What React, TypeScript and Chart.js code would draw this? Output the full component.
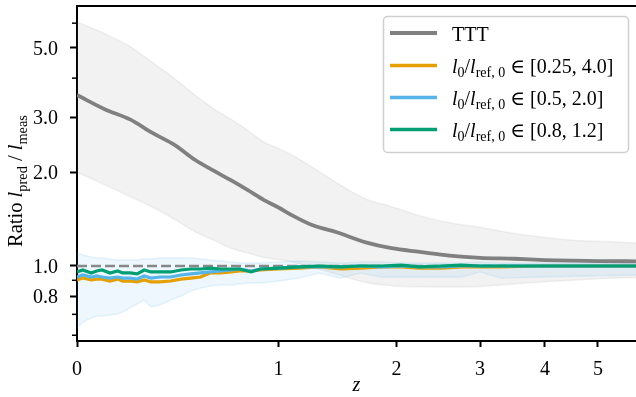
import React, { useEffect, useRef } from "react";
import { Chart, registerables } from "chart.js";

Chart.register(...registerables);

// ---------------- data ----------------
// redshift samples for the three l0/lref,0 variants
const zLines = [0, 0.02, 0.05, 0.07, 0.09, 0.12, 0.15, 0.17, 0.2, 0.23, 0.26, 0.29, 0.33, 0.38, 0.43, 0.48, 0.53, 0.58, 0.64, 0.7, 0.75, 0.82, 0.88, 1.0, 1.15, 1.3, 1.48, 1.65, 1.85, 2.05, 2.25, 2.5, 2.75, 3.0, 3.3, 3.9, 4.7, 5.9];
const orangeVals = [0.902, 0.915, 0.902, 0.908, 0.908, 0.895, 0.908, 0.895, 0.895, 0.889, 0.902, 0.889, 0.889, 0.895, 0.908, 0.915, 0.922, 0.95, 0.95, 0.957, 0.964, 0.964, 0.971, 0.978, 0.985, 0.993, 0.978, 0.985, 0.993, 0.993, 0.985, 0.985, 0.993, 0.993, 0.993, 1.0, 1.0, 1.0];
const blueVals = [0.922, 0.936, 0.922, 0.929, 0.922, 0.915, 0.922, 0.915, 0.915, 0.908, 0.929, 0.915, 0.922, 0.922, 0.936, 0.943, 0.95, 0.957, 0.964, 0.971, 0.978, 0.964, 0.978, 0.985, 0.993, 0.993, 0.993, 1.0, 0.993, 1.0, 0.993, 0.993, 1.0, 1.0, 1.0, 1.0, 1.0, 1.0];
const greenVals = [0.957, 0.971, 0.95, 0.964, 0.971, 0.95, 0.964, 0.95, 0.95, 0.943, 0.971, 0.957, 0.957, 0.957, 0.971, 0.978, 0.978, 0.985, 0.978, 0.978, 0.978, 0.957, 0.978, 0.985, 0.993, 1.0, 0.993, 1.0, 1.0, 1.007, 0.993, 1.0, 1.007, 1.0, 1.0, 1.0, 1.0, 1.0];
const blueBandHi = [1.1, 1.085, 1.069, 1.061, 1.061, 1.053, 1.045, 1.045, 1.045, 1.045, 1.053, 1.053, 1.061, 1.061, 1.061, 1.061, 1.053, 1.045, 1.038, 1.03, 1.022, 1.022, 1.022, 1.03, 1.038, 1.03, 1.022, 1.03, 1.03, 1.022, 1.022, 1.022, 1.022, 1.03, 1.022, 1.022, 1.022, 1.022];
const blueBandLo = [0.637, 0.661, 0.681, 0.692, 0.692, 0.697, 0.702, 0.712, 0.734, 0.756, 0.778, 0.739, 0.75, 0.778, 0.801, 0.832, 0.85, 0.863, 0.869, 0.869, 0.876, 0.882, 0.882, 0.895, 0.915, 0.95, 0.915, 0.95, 0.922, 0.922, 0.922, 0.922, 0.922, 0.957, 0.915, 0.922, 0.929, 0.936];

// TTT
const zTTT = [0, 0.1, 0.2, 0.3, 0.4, 0.5, 0.6, 0.7, 0.8, 0.9, 1.0, 1.1, 1.25, 1.45, 1.7, 1.95, 2.25, 2.6, 3.0, 3.5, 4.0, 4.5, 5.0, 5.9];
const tttVals = [3.53, 3.18, 2.95, 2.66, 2.44, 2.19, 2.02, 1.88, 1.75, 1.63, 1.54, 1.45, 1.35, 1.28, 1.19, 1.14, 1.11, 1.08, 1.062, 1.055, 1.045, 1.04, 1.037, 1.035];
const tttHi = [6.05, 5.55, 5.05, 4.47, 3.98, 3.53, 3.19, 2.95, 2.72, 2.5, 2.38, 2.26, 2.07, 1.84, 1.64, 1.55, 1.45, 1.375, 1.33, 1.27, 1.235, 1.21, 1.2, 1.185];
const tttLo = [2.0, 1.82, 1.67, 1.54, 1.41, 1.29, 1.21, 1.14, 1.1, 1.065, 1.05, 1.03, 0.99, 0.94, 0.885, 0.865, 0.858, 0.857, 0.86, 0.875, 0.89, 0.9, 0.91, 0.92];

// axes
const xTicks = [0, 1, 2, 3, 4, 5];
const yTicks = [0.8, 1.0, 2.0, 3.0, 5.0];
const yMinorTicks = [0.6, 0.7, 0.9, 4, 6];
const Z_MAX = 5.84;
const Y_MIN = 0.575;
const Y_MAX = 6.81;
const REF_LEVEL = 1.0;

// legend
const legendTTT = "TTT";
const legendRanges = ["[0.25, 4.0]", "[0.5, 2.0]", "[0.8, 1.2]"];
const xTitle = "z";

// ---------------- styling ----------------
const FONT = '"Liberation Serif", "DejaVu Serif", serif';
const GRAY = "#808080";
const ORANGE = "#E69F00";
const BLUE = "#56B4E9";
const GREEN = "#009E73";
const XMAX = Math.log1p(Z_MAX);

const toXY = (zs: number[], vs: number[]) => zs.map((z, i) => ({ x: Math.log1p(z), y: vs[i] }));

type Part = { t: string; it?: boolean; sub?: boolean };

function partFont(p: Part, size: number) {
  const s = p.sub ? size * 0.7 : size;
  return `${p.it ? "italic " : ""}${s}px ${FONT}`;
}
function measureParts(ctx: CanvasRenderingContext2D, parts: Part[], size: number) {
  let w = 0;
  for (const p of parts) {
    ctx.font = partFont(p, size);
    w += ctx.measureText(p.t).width;
  }
  return w;
}
function drawParts(ctx: CanvasRenderingContext2D, parts: Part[], x: number, y: number, size: number) {
  let cx = x;
  for (const p of parts) {
    ctx.font = partFont(p, size);
    ctx.fillText(p.t, cx, p.sub ? y + size * 0.22 : y);
    cx += ctx.measureText(p.t).width;
  }
}

const legendParts = (range: string): Part[] => [
  { t: "l", it: true },
  { t: "0", sub: true },
  { t: "/" },
  { t: "l", it: true },
  { t: "ref, 0", sub: true },
  { t: " \u2208 " },
  { t: range },
];

const yTitleParts: Part[] = [
  { t: "Ratio " },
  { t: "l", it: true },
  { t: "pred", sub: true },
  { t: " / " },
  { t: "l", it: true },
  { t: "meas", sub: true },
];

const decorPlugin = {
  id: "decor",
  afterDraw(chart: any) {
    const { ctx, chartArea: a, scales } = chart;
    const ys = scales.y;
    ctx.save();
    // top spine
    ctx.strokeStyle = "#000";
    ctx.lineWidth = 2;
    ctx.beginPath();
    ctx.moveTo(a.left - 1, a.top);
    ctx.lineTo(a.right, a.top);
    ctx.stroke();
    // minor ticks
    ctx.lineWidth = 1.5;
    for (const v of yMinorTicks) {
      const py = ys.getPixelForValue(v);
      ctx.beginPath();
      ctx.moveTo(a.left - 5, py);
      ctx.lineTo(a.left, py);
      ctx.stroke();
    }

    // legend
    const bx = 383, by = 16, bw = 245, bh = 136;
    ctx.beginPath();
    ctx.roundRect(bx + 0.5, by + 0.5, bw, bh, 4);
    ctx.fillStyle = "rgba(255,255,255,0.85)";
    ctx.fill();
    ctx.strokeStyle = "#d0d0d0";
    ctx.lineWidth = 1.5;
    ctx.stroke();

    const rows = [33, 65.5, 97.5, 129.5];
    const colors = [GRAY, ORANGE, BLUE, GREEN];
    const fs = 20;
    ctx.fillStyle = "#000";
    ctx.textBaseline = "alphabetic";
    ctx.textAlign = "left";
    rows.forEach((ry, i) => {
      ctx.strokeStyle = colors[i];
      ctx.lineWidth = i === 0 ? 4 : 3.5;
      ctx.beginPath();
      ctx.moveTo(390, ry);
      ctx.lineTo(437, ry);
      ctx.stroke();
      if (i === 0) {
        ctx.font = `${fs}px ${FONT}`;
        ctx.fillText(legendTTT, 452, ry + 7.5);
      } else {
        drawParts(ctx, legendParts(legendRanges[i - 1]), 452, ry + 7, fs);
      }
    });

    // x title
    ctx.font = `italic 20px ${FONT}`;
    ctx.textAlign = "center";
    ctx.fillText(xTitle, (a.left + a.right) / 2, 391);

    // y title
    ctx.textAlign = "left";
    const tsize = 20.5;
    const w = measureParts(ctx, yTitleParts, tsize);
    ctx.translate(22, 181);
    ctx.rotate(-Math.PI / 2);
    drawParts(ctx, yTitleParts, -w / 2, 0, tsize);
    ctx.restore();
  },
};

export default function App() {
  const ref = useRef<HTMLCanvasElement | null>(null);
  useEffect(() => {
    if (!ref.current) return;
    const bandLine = (c: string) => ({ borderColor: c, borderWidth: 1.5, pointRadius: 0 });
    const smooth = { cubicInterpolationMode: "monotone" };
    const chart = new Chart(ref.current, {
      type: "line",
      data: {
        datasets: [
          { label: "green", data: toXY(zLines, greenVals), borderColor: GREEN, borderWidth: 3.2, pointRadius: 0, fill: false },
          { label: "blue", data: toXY(zLines, blueVals), borderColor: BLUE, borderWidth: 3.2, pointRadius: 0, fill: false },
          { label: "orange", data: toXY(zLines, orangeVals), borderColor: ORANGE, borderWidth: 3.2, pointRadius: 0, fill: false },
          { label: "TTT", data: toXY(zTTT, tttVals), borderColor: GRAY, borderWidth: 3.8, pointRadius: 0, fill: false, ...smooth },
          { label: "ref", data: [{ x: 0, y: REF_LEVEL }, { x: XMAX, y: REF_LEVEL }], borderColor: "#888888", borderDash: [10, 4], borderWidth: 2.5, pointRadius: 0, fill: false },
          { label: "blueHi", data: toXY(zLines, blueBandHi), ...bandLine("rgba(86,180,233,0.14)"), backgroundColor: "rgba(86,180,233,0.1)", fill: 6 },
          { label: "blueLo", data: toXY(zLines, blueBandLo), ...bandLine("rgba(86,180,233,0.14)"), fill: false },
          { label: "tttHi", data: toXY(zTTT, tttHi), ...bandLine("rgba(128,128,128,0.1)"), backgroundColor: "rgba(128,128,128,0.1)", fill: 8, ...smooth },
          { label: "tttLo", data: toXY(zTTT, tttLo), ...bandLine("rgba(128,128,128,0.1)"), fill: false, ...smooth },
        ] as any,
      },
      options: {
        animation: false,
        responsive: false,
        maintainAspectRatio: false,
        layout: { padding: { top: 6, left: 0, right: 0, bottom: 0 } },
        plugins: { legend: { display: false }, tooltip: { enabled: false } },
        elements: { point: { radius: 0 }, line: { tension: 0 } },
        scales: {
          x: {
            type: "linear",
            min: 0,
            max: XMAX,
            afterBuildTicks: (s: any) => {
              s.ticks = xTicks.map((v) => ({ value: Math.log1p(v) }));
            },
            afterFit: (s: any) => {
              s.height = 56;
              s.paddingLeft = 0;
              s.paddingRight = 0;
            },
            ticks: {
              autoSkip: false,
              maxRotation: 0,
              padding: 11,
              color: "#000",
              font: { family: FONT, size: 20 },
              callback: (v: any) => String(Math.round(Math.expm1(Number(v)))),
            },
            grid: { drawOnChartArea: false, drawTicks: true, tickLength: 6, tickWidth: 2, tickColor: "#000" },
            border: { display: true, color: "#000", width: 2 },
          },
          y: {
            type: "logarithmic",
            min: Y_MIN,
            max: Y_MAX,
            afterBuildTicks: (s: any) => {
              s.ticks = yTicks.map((v) => ({ value: v }));
            },
            afterFit: (s: any) => {
              s.width = 77;
              s.paddingTop = 0;
              s.paddingBottom = 0;
            },
            ticks: {
              autoSkip: false,
              padding: 12,
              labelOffset: 2,
              color: "#000",
              font: { family: FONT, size: 20 },
              callback: (v: any) => Number(v).toFixed(1),
            },
            grid: { drawOnChartArea: false, drawTicks: true, tickLength: 7, tickWidth: 2, tickColor: "#000" },
            border: { display: true, color: "#000", width: 2 },
          },
        },
      } as any,
      plugins: [decorPlugin],
    });
    return () => chart.destroy();
  }, []);

  return (
    <div style={{ position: "fixed", left: 0, top: 0, width: 636, height: 397, background: "#fff" }}>
      <canvas ref={ref} width={636} height={397} style={{ width: 636, height: 397, display: "block" }} />
    </div>
  );
}
